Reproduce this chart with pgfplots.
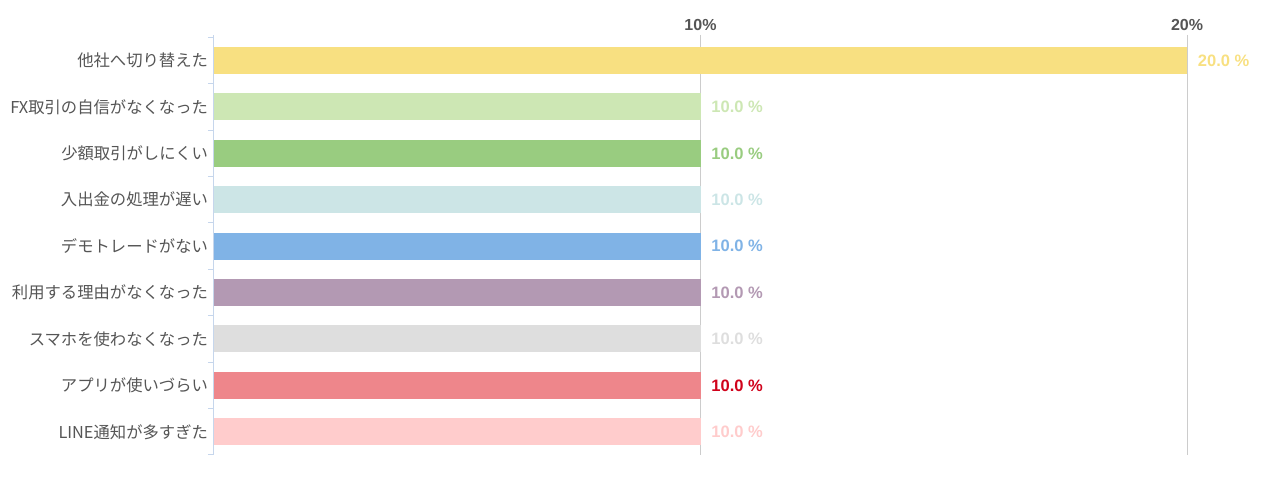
\documentclass[border=0pt]{standalone}
\usepackage{pgfplots}
\pgfplotsset{compat=1.18}
\usepackage{fontspec}
\setmainfont{Liberation Sans}
\newfontfamily\cjk{Noto Sans CJK JP}
\definecolor{lbl}{HTML}{555555}
\definecolor{gridgray}{HTML}{CCCCCC}
\definecolor{axblue}{HTML}{C6D6EC}
\definecolor{c1}{HTML}{F8E081}
\definecolor{c2}{HTML}{CDE7B4}
\definecolor{c3}{HTML}{99CC80}
\definecolor{c4}{HTML}{CCE5E6}
\definecolor{c5}{HTML}{80B3E6}
\definecolor{c6}{HTML}{B399B3}
\definecolor{c7}{HTML}{DEDEDE}
\definecolor{c8}{HTML}{EE868B}
\definecolor{c9}{HTML}{FFCCCC}
\definecolor{red8}{HTML}{D0021B}
\begin{document}
\begin{tikzpicture}
\useasboundingbox (-160.5pt,-18pt) rectangle (795.8pt,341.25pt);
\begin{axis}[
  at={(0,0)}, anchor=south west,
  width=795.5pt, height=315pt, scale only axis, clip=false,
  xmin=0, xmax=21.8, ymin=-0.55, ymax=8.5, y dir=reverse,
  xbar, bar width=20.25pt, bar shift=0pt,
  axis line style={draw=none},
  major tick length=0pt,
  xtick={10,20}, xticklabels={10\%,20\%}, xticklabel pos=upper,
  xmajorgrids, grid style={draw=gridgray, line width=0.75pt},
  ytick={0,...,8},
  yticklabels={他社へ切り替えた,FX取引の自信がなくなった,少額取引がしにくい,入出金の処理が遅い,デモトレードがない,利用する理由がなくなった,スマホを使わなくなった,アプリが使いづらい,LINE通知が多すぎた},
  ytick pos=left,
  extra y ticks={-0.5,0.5,...,8.5}, extra y tick labels={},
  extra y tick style={tick align=outside, major tick length=4.5pt,
    tick style={draw=axblue, line width=0.75pt}},
  yticklabel style={font=\cjk\fontsize{12.25}{14}\selectfont, text=lbl, xshift=-1pt},
  xticklabel style={font=\bfseries\fontsize{12}{14}\selectfont, text=lbl},
  /pgf/number format/assume math mode=true,
  point meta=x,
  nodes near coords={\pgfmathprintnumber[fixed,fixed zerofill,precision=1]{\pgfplotspointmeta}~\%},
  every node near coord/.append style={font=\bfseries\fontsize{12.4}{14}\selectfont, anchor=west, inner sep=0pt, xshift=8pt},
]
\addplot[fill=c1, draw=none, every node near coord/.append style={text=c1}] coordinates {(20,0)};
\addplot[fill=c2, draw=none, every node near coord/.append style={text=c2}] coordinates {(10,1)};
\addplot[fill=c3, draw=none, every node near coord/.append style={text=c3}] coordinates {(10,2)};
\addplot[fill=c4, draw=none, every node near coord/.append style={text=c4}] coordinates {(10,3)};
\addplot[fill=c5, draw=none, every node near coord/.append style={text=c5}] coordinates {(10,4)};
\addplot[fill=c6, draw=none, every node near coord/.append style={text=c6}] coordinates {(10,5)};
\addplot[fill=c7, draw=none, every node near coord/.append style={text=c7}] coordinates {(10,6)};
\addplot[fill=c8, draw=none, every node near coord/.append style={text=red8}] coordinates {(10,7)};
\addplot[fill=c9, draw=none, every node near coord/.append style={text=c9}] coordinates {(10,8)};
\draw[axblue, line width=0.75pt] (rel axis cs:0,0) -- (rel axis cs:0,1);
\end{axis}
\end{tikzpicture}
\end{document}
